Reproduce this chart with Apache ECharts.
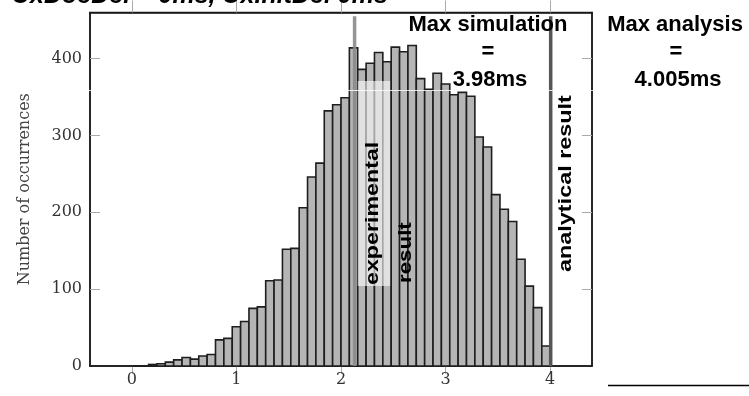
<!DOCTYPE html>
<html>
<head>
<meta charset="utf-8">
<script src="https://cdn.jsdelivr.net/npm/echarts@6/dist/echarts.min.js"></script>
<style>
  html, body { margin: 0; padding: 0; background: #fff; }
  #main { width: 749px; height: 396px; }
</style>
</head>
<body>
<div id="main"></div>
<script>
// histogram of occurrences, bins of 0.08 ms starting at 0
var binStart = 0;
var binWidth = 0.08;
var counts = [0, 0, 2, 3, 5, 8, 11, 9, 13, 15,
  34, 36, 51, 58, 75, 77, 111, 112, 152, 153,
  206, 246, 264, 332, 340, 349, 414, 386, 394, 408,
  396, 415, 409, 417, 374, 360, 381, 367, 353, 356,
  351, 298, 285, 223, 204, 188, 139, 104, 76, 26];
var xTicks = [0, 1, 2, 3, 4];
var yTicks = [0, 100, 200, 300, 400];
var experimentalX = 2.13;
var analyticalX = 4.005;
var lineTop = 455;
// white box behind the "experimental result" text: [x0, x1, y0, y1]
var labelBox = [2.16, 2.47, 104, 371];

var chart = echarts.init(document.getElementById('main'));

var barData = [];
for (var i = 0; i < counts.length; i++) {
  var a = binStart + i * binWidth;
  barData.push([a, a + binWidth, counts[i]]);
}

var serif = 'DejaVu Serif';
var frameLine = { show: true, onZero: false, lineStyle: { color: '#1a1a1a', width: 1.5 } };
var tickStyle = { color: '#aaa', width: 1 };
// no inner tick at 0, it would cover the bottom frame line
var yInnerTicks = yTicks.filter(function (v) { return v > 0; });

function rect(api, x0, x1, y0, y1, style) {
  var p0 = api.coord([x0, y1]);
  var p1 = api.coord([x1, y0]);
  return {
    type: 'rect',
    shape: { x: p0[0], y: p0[1], width: p1[0] - p0[0], height: p1[1] - p0[1] },
    style: style
  };
}

function boldText(x, y, txt) {
  return { type: 'text', z: 100, x: x, y: y, style: { text: txt, fill: '#000', font: 'bold 22px Liberation Sans', textAlign: 'center', textVerticalAlign: 'middle' } };
}

// rotated labels, stretched along their length like in the original figure
function sideText(x, y, txt, stretch) {
  return { type: 'text', z: 100, x: x, y: y, rotation: Math.PI / 2, scaleX: stretch, style: { text: txt, fill: '#000', font: 'bold 18px Liberation Sans', textAlign: 'left', textVerticalAlign: 'middle' } };
}

var option = {
  animation: false,
  grid: {
    left: 90, right: 157, top: 12.5, bottom: 30,
    show: true, borderColor: '#1a1a1a', borderWidth: 1.5
  },
  xAxis: [{
    type: 'value', min: -0.4, max: 4.4, position: 'bottom',
    splitLine: { show: false },
    axisLine: frameLine,
    axisTick: { show: true, inside: false, length: 8, customValues: xTicks, lineStyle: tickStyle },
    axisLabel: { customValues: xTicks, margin: 6, color: '#333', fontFamily: serif, fontSize: 16 }
  }, {
    type: 'value', min: -0.4, max: 4.4, position: 'top',
    splitLine: { show: false },
    axisLine: frameLine,
    axisTick: { show: true, inside: false, length: 12, customValues: xTicks, lineStyle: tickStyle },
    axisLabel: { show: false }
  }],
  yAxis: [{
    type: 'value', min: 0, max: 460, position: 'left',
    name: 'Number of occurrences', nameLocation: 'middle', nameGap: 57,
    nameTextStyle: { color: '#444', fontFamily: serif, fontSize: 16 },
    splitLine: { show: false },
    axisLine: frameLine,
    axisTick: { show: true, inside: true, length: 10, customValues: yInnerTicks, lineStyle: tickStyle },
    axisLabel: { customValues: yTicks, margin: 8, color: '#333', fontFamily: serif, fontSize: 16 }
  }, {
    type: 'value', min: 0, max: 460, position: 'right',
    splitLine: { show: false },
    axisLine: frameLine,
    axisTick: { show: true, inside: true, length: 10, customValues: yInnerTicks, lineStyle: tickStyle },
    axisLabel: { show: false }
  }],
  series: [{
    name: 'occurrences',
    type: 'custom',
    xAxisIndex: 0, yAxisIndex: 0,
    encode: { x: [0, 1], y: 2 },
    z: 2,
    renderItem: function (params, api) {
      return rect(api, api.value(0), api.value(1), 0, api.value(2),
        { fill: '#b5b5b5', stroke: '#1e1e1e', lineWidth: 1.6 });
    },
    data: barData
  }, {
    name: 'experimental result',
    type: 'line', z: 3,
    symbol: 'none',
    lineStyle: { color: '#8a8a8a', width: 3.5, opacity: 0.9 },
    data: [[experimentalX, 0], [experimentalX, lineTop]]
  }, {
    name: 'analytical result',
    type: 'line', z: 3,
    symbol: 'none',
    lineStyle: { color: '#555', width: 3.5 },
    data: [[analyticalX, 0], [analyticalX, lineTop]]
  }, {
    name: 'label box',
    type: 'custom', z: 4,
    encode: { x: [0, 1], y: [2, 3] },
    renderItem: function (params, api) {
      return rect(api, api.value(0), api.value(1), api.value(2), api.value(3),
        { fill: 'rgba(255,255,255,0.6)' });
    },
    data: [labelBox]
  }],
  graphic: [
    // title of the figure, cut off at the top
    { type: 'text', z: 100, x: 12, y: 9, style: { text: 'UxDocDel = 0ms, UxInitDel 0ms', fill: '#000', font: 'italic bold 25px Liberation Sans', textVerticalAlign: 'bottom' } },
    sideText(373, 285, 'experimental', 1.29),
    sideText(406, 283, 'result', 1.24),
    sideText(566, 272, 'analytical result', 1.3),
    boldText(488, 25, 'Max simulation'),
    boldText(488, 52, '='),
    boldText(490, 80, '3.98ms'),
    boldText(675, 25, 'Max analysis'),
    boldText(676, 52, '='),
    boldText(678, 80, '4.005ms'),
    // stray rule in the lower right corner
    { type: 'line', z: 100, shape: { x1: 608, y1: 385.5, x2: 749, y2: 385.5 }, style: { stroke: '#000', lineWidth: 1.5 } },
    // faint white seam across the picture
    { type: 'line', z: 100, shape: { x1: 88, y1: 90.5, x2: 594, y2: 90.5 }, style: { stroke: 'rgba(255,255,255,0.8)', lineWidth: 1 } }
  ]
};

chart.setOption(option, true);
window.addEventListener('resize', function () {
  chart.resize();
});
</script>
</body>
</html>
